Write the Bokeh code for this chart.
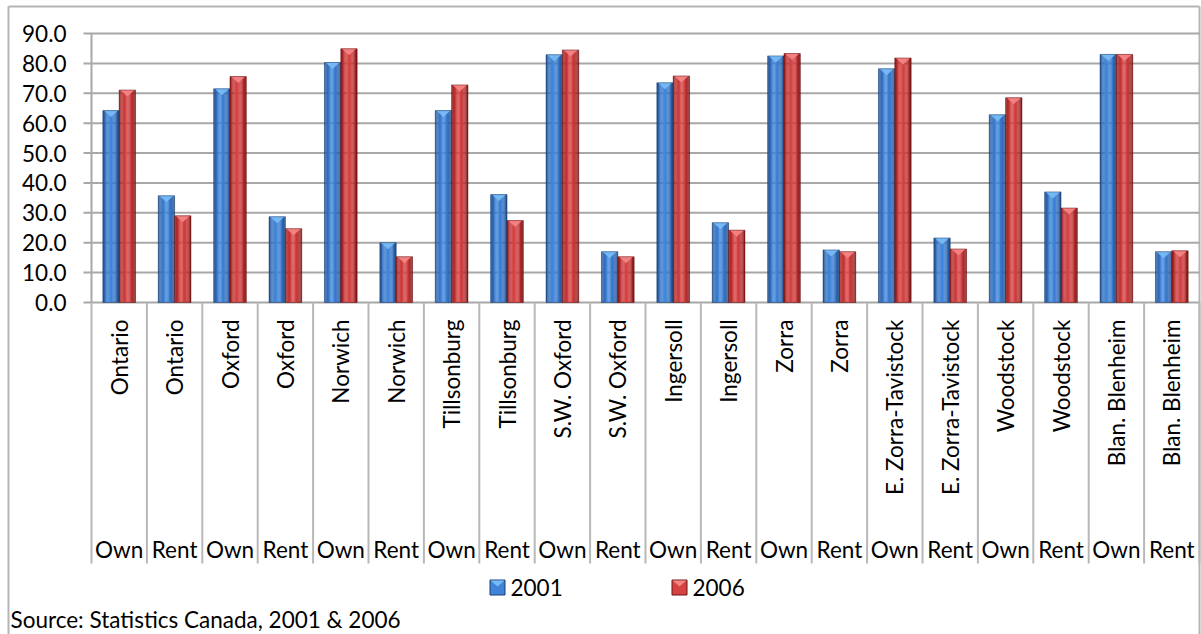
import numpy as np
from bokeh.plotting import figure
from bokeh.models import Range1d
from bokeh.core.properties import value
from bokeh.embed import file_html
from bokeh.resources import INLINE

# ---- data -----------------------------------------------------------------
places = ["Ontario", "Ontario", "Oxford", "Oxford", "Norwich", "Norwich",
          "Tillsonburg", "Tillsonburg", "S.W. Oxford", "S.W. Oxford",
          "Ingersoll", "Ingersoll", "Zorra", "Zorra",
          "E. Zorra-Tavistock", "E. Zorra-Tavistock", "Woodstock", "Woodstock",
          "Blan. Blenheim", "Blan. Blenheim"]
tenure = ["Own", "Rent"] * 10
pct_2001 = [64.2, 35.7, 71.5, 28.7, 80.3, 20.0, 64.2, 36.1, 82.9, 17.0,
            73.5, 26.7, 82.5, 17.6, 78.2, 21.6, 62.8, 37.0, 83.0, 17.0]
pct_2006 = [71.1, 29.0, 75.6, 24.7, 84.9, 15.3, 72.8, 27.4, 84.5, 15.3,
            75.8, 24.2, 83.3, 17.0, 81.8, 17.9, 68.5, 31.6, 83.0, 17.3]
years = ["2001", "2006"]
y_ticks = [0, 10, 20, 30, 40, 50, 60, 70, 80, 90]
source_note = "Source: Statistics Canada, 2001 & 2006"

# ---- canvas geometry (pixels) ------------------------------------------------
W, H = 1201, 634
PLOT_LEFT, PLOT_RIGHT = 91, 1199
ZERO_PX, TOP_PX = 302, 33
n = len(places)
cat_w = (PLOT_RIGHT - PLOT_LEFT) / n
unit_px = (ZERO_PX - TOP_PX) / y_ticks[-1]
x_start = -PLOT_LEFT / cat_w
x_end = x_start + W / cat_w
y_end = ZERO_PX / unit_px
y_start = -(H - ZERO_PX) / unit_px


def X(px):
    return x_start + px / cat_w


def Y(py):
    return y_end - py / unit_px


FONT = value("Lato")
FS = "22.5px"
GRID = "#a8a8a8"

p = figure(width=W, height=H, x_range=Range1d(x_start, x_end),
           y_range=Range1d(y_start, y_end), output_backend="svg",
           toolbar_location=None, tools="", min_border=0,
           x_axis_location=None, y_axis_location=None)
p.grid.visible = False
p.outline_line_color = None
p.background_fill_color = "white"
p.border_fill_color = "white"

# chart border
p.segment(x0=[X(8), X(8), X(PLOT_RIGHT)], y0=[Y(6), Y(6), Y(6)],
          x1=[X(8), X(PLOT_RIGHT), X(PLOT_RIGHT)], y1=[Y(H + 5), Y(6), Y(H + 5)],
          line_color="#b5b5b5", line_width=2)

# horizontal gridlines with outside tick stubs
p.segment(x0=X(83), x1=n, y0=y_ticks, y1=y_ticks, line_color=GRID, line_width=2)
# value axis line
p.segment(x0=0, x1=0, y0=0, y1=y_ticks[-1], line_color=GRID, line_width=2)
# category separators running through both label rows
bounds = list(range(n + 1))
p.segment(x0=bounds, x1=bounds, y0=0, y1=Y(563), line_color="#b8b8b8", line_width=2)

# y tick labels
p.text(x=X(66), y=y_ticks, text=[f"{t:.1f}" for t in y_ticks],
       text_align="right", text_baseline="middle", text_font=FONT,
       text_font_size=FS, text_color="black")


# ---- shaded bars -----------------------------------------------------------
def ramp(anchors):
    pos = np.array([a[0] for a in anchors])
    rgb = np.array([[int(a[1][i:i + 2], 16) for i in (1, 3, 5)] for a in anchors], float)

    def f(t):
        c = [np.interp(t, pos, rgb[:, j]) for j in range(3)]
        return "#%02x%02x%02x" % tuple(int(round(v)) for v in c)
    return f


styles = {
    "2001": dict(ramp=ramp([(0, "#22508f"), (0.18, "#306cbc"), (0.45, "#428ade"),
                            (0.75, "#3472c4"), (1, "#1f4a85")]),
                 bevel="#76baf6", edge="#1d3f70"),
    "2006": dict(ramp=ramp([(0, "#8a1a1a"), (0.18, "#bc2e2e"), (0.45, "#da4646"),
                            (0.75, "#c23434"), (1, "#7c1616")]),
                 bevel="#f48484", edge="#6a1414"),
}

bar_w = 0.295
centers = np.arange(n) + 0.5
K = 14
bevel_h = 6.5 / unit_px

for year, vals, off in (("2001", pct_2001, -bar_w / 2), ("2006", pct_2006, bar_w / 2)):
    st = styles[year]
    xs, tops, cols = [], [], []
    for k in range(K):
        t = (k + 0.5) / K
        xs.extend(centers + off - bar_w / 2 + bar_w * t)
        tops.extend(vals)
        cols.extend([st["ramp"](t)] * n)
    p.vbar(x=xs, top=tops, bottom=0, width=bar_w / K * 1.08,
           fill_color=cols, line_color=None)
    # pyramid bevel on each bar top
    tri_x = [[c + off - bar_w / 2 + 0.02, c + off + bar_w / 2 - 0.02, c + off] for c in centers]
    tri_y = [[v, v, v - bevel_h] for v in vals]
    p.patches(xs=tri_x, ys=tri_y, fill_color=st["bevel"], line_color=None, fill_alpha=0.95)
    p.vbar(x=centers + off, top=vals, bottom=0, width=bar_w, fill_color=None,
           line_color=st["edge"], line_alpha=0.5, line_width=1)

# ---- category labels ----------------------------------------------------------
p.text(x=centers, y=Y(319), text=places, angle=np.pi / 2, text_align="right",
       text_baseline="middle", text_font=FONT, text_font_size=FS, text_color="black")
p.text(x=centers, y=Y(549), text=tenure, text_align="center",
       text_baseline="middle", text_font=FONT, text_font_size=FS, text_color="black")

# ---- legend ---------------------------------------------------------------------
leg_x = [X(497), X(679)]
leg_y = Y(587)
sq = 15
p.rect(x=leg_x, y=leg_y, width=sq, height=sq, width_units="screen", height_units="screen",
       fill_color=[styles[y]["ramp"](0.4) for y in years],
       line_color=[styles[y]["edge"] for y in years], line_width=1)
p.patches(xs=[[X(px - 7), X(px + 7), X(px)] for px in (497, 679)],
          ys=[[Y(580), Y(580), Y(586)]] * 2,
          fill_color=[styles[y]["bevel"] for y in years], line_color=None)
p.text(x=[X(510), X(692)], y=leg_y, text=years, text_align="left",
       text_baseline="middle", text_font=FONT, text_font_size=FS, text_color="black")

p.text(x=[X(10)], y=[Y(619)], text=[source_note], text_align="left",
       text_baseline="middle", text_font=FONT, text_font_size=FS, text_color="black")

open("out.html", "w").write(file_html(p, INLINE))
